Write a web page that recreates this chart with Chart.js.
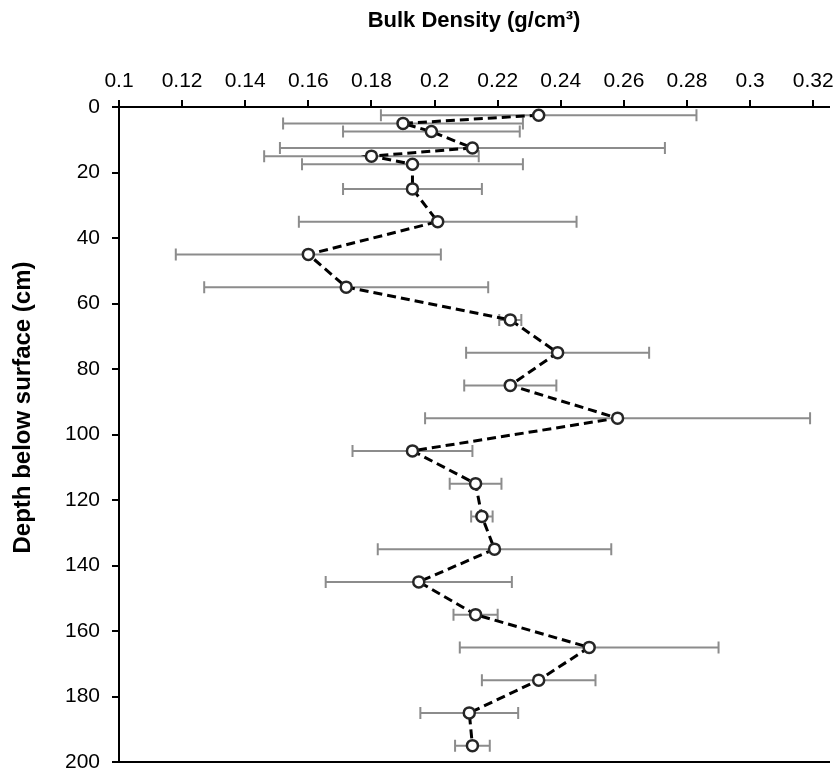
<!DOCTYPE html>
<html>
<head>
<meta charset="utf-8">
<title>Bulk density profile</title>
<script src="https://cdn.jsdelivr.net/npm/chart.js@4.4.1/dist/chart.umd.min.js"></script>
<style>
  html, body { margin: 0; padding: 0; background: #fff; }
  #wrap { width: 837px; height: 774px; }
</style>
</head>
<body>
<div id="wrap"><canvas id="c" width="837" height="774"></canvas></div>
<script>
// Sampling depths (cm below surface)
const depths = [2.5, 5, 7.5, 12.5, 15, 17.5, 25, 35, 45, 55, 65, 75, 85, 95, 105, 115, 125, 135, 145, 155, 165, 175, 185, 195];
// Mean bulk density at each depth (g/cm3)
const density = [0.233, 0.190, 0.199, 0.212, 0.180, 0.193, 0.193, 0.201, 0.160, 0.172, 0.224, 0.239, 0.224, 0.258, 0.193, 0.213, 0.215, 0.219, 0.195, 0.213, 0.249, 0.233, 0.211, 0.212];
// Standard deviation, drawn as symmetric horizontal error bars
const densitySD = [0.050, 0.038, 0.028, 0.061, 0.034, 0.035, 0.022, 0.044, 0.042, 0.045, 0.0035, 0.029, 0.0146, 0.061, 0.019, 0.0082, 0.0034, 0.037, 0.0295, 0.007, 0.041, 0.018, 0.0155, 0.0055];
// Axis ticks
const xTicks = [0.1, 0.12, 0.14, 0.16, 0.18, 0.2, 0.22, 0.24, 0.26, 0.28, 0.3, 0.32];
const yTicks = [0, 20, 40, 60, 80, 100, 120, 140, 160, 180, 200];
const xTitle = 'Bulk Density (g/cm³)';
const yTitle = 'Depth below surface (cm)';

const FONT = '"Liberation Sans", Arial, Helvetica, sans-serif';

const points = depths.map((d, i) => ({ x: density[i], y: d }));

// Horizontal error bars with end caps, placed through the chart's own scales
const errorBars = {
  id: 'errorBars',
  beforeDatasetsDraw(chart) {
    const { ctx } = chart;
    const xs = chart.scales.x, ys = chart.scales.y;
    const cap = 6;
    ctx.save();
    ctx.strokeStyle = '#8c8c8c';
    ctx.lineWidth = 2;
    density.forEach((v, i) => {
      const y = ys.getPixelForValue(depths[i]);
      const x0 = xs.getPixelForValue(v - densitySD[i]);
      const x1 = xs.getPixelForValue(v + densitySD[i]);
      ctx.beginPath();
      ctx.moveTo(x0, y); ctx.lineTo(x1, y);
      ctx.moveTo(x0, y - cap); ctx.lineTo(x0, y + cap);
      ctx.moveTo(x1, y - cap); ctx.lineTo(x1, y + cap);
      ctx.stroke();
    });
    ctx.restore();
  }
};

// Vertical axis caption, set a little above the plot's mid-height
const depthCaption = {
  id: 'depthCaption',
  afterDraw(chart) {
    const { ctx, chartArea } = chart;
    ctx.save();
    ctx.font = 'bold 24px ' + FONT;
    ctx.fillStyle = '#000';
    ctx.textAlign = 'center';
    ctx.textBaseline = 'middle';
    ctx.translate(23, (chartArea.top + chartArea.bottom) / 2 - 27);
    ctx.rotate(-Math.PI / 2);
    ctx.fillText(yTitle, 0, 0);
    ctx.restore();
  }
};

const tickGrid = { display: true, drawOnChartArea: false, drawTicks: true, tickLength: 7, color: '#000', lineWidth: 2 };
const axisBorder = { display: true, color: '#000', width: 2 };

new Chart(document.getElementById('c'), {
  type: 'scatter',
  data: {
    datasets: [{
      data: points,
      showLine: true,
      borderColor: '#000',
      borderWidth: 3,
      borderDash: [9, 5],
      pointRadius: 5.5,
      pointHoverRadius: 5.5,
      pointBorderWidth: 2.5,
      pointBackgroundColor: '#fff',
      pointBorderColor: '#262626',
      xAxisID: 'x',
      yAxisID: 'y',
      clip: false
    }]
  },
  options: {
    responsive: false,
    animation: false,
    events: [],
    layout: { padding: { top: 0, left: 0, right: 0, bottom: 12 } },
    plugins: { legend: { display: false }, tooltip: { enabled: false } },
    scales: {
      x: {
        type: 'linear',
        position: 'top',
        min: 0.1,
        max: 0.325,
        afterBuildTicks(s) { s.ticks = xTicks.map(v => ({ value: v })); },
        afterFit(s) { s.height = 107; s.paddingLeft = 0; s.paddingRight = 0; },
        grid: tickGrid,
        border: axisBorder,
        ticks: {
          color: '#000',
          font: { family: FONT, size: 21 },
          padding: 6,
          maxRotation: 0,
          autoSkip: false,
          callback: v => String(v)
        },
        title: {
          display: true,
          text: xTitle,
          color: '#000',
          font: { family: FONT, size: 22, weight: 'bold' },
          padding: { top: 8, bottom: 0 }
        }
      },
      xb: {
        type: 'linear',
        position: 'bottom',
        min: 0.1,
        max: 0.325,
        afterFit(s) { s.height = 0; s.paddingLeft = 0; s.paddingRight = 0; },
        grid: { display: false },
        ticks: { display: false },
        border: axisBorder
      },
      y: {
        type: 'linear',
        reverse: true,
        min: 0,
        max: 200,
        afterBuildTicks(s) { s.ticks = yTicks.map(v => ({ value: v })); },
        afterFit(s) { s.width = 119; s.paddingTop = 0; s.paddingBottom = 0; },
        grid: tickGrid,
        border: axisBorder,
        ticks: {
          color: '#000',
          font: { family: FONT, size: 21 },
          padding: 12,
          autoSkip: false,
          callback: v => String(v)
        }
      }
    }
  },
  plugins: [errorBars, depthCaption]
});
</script>
</body>
</html>
